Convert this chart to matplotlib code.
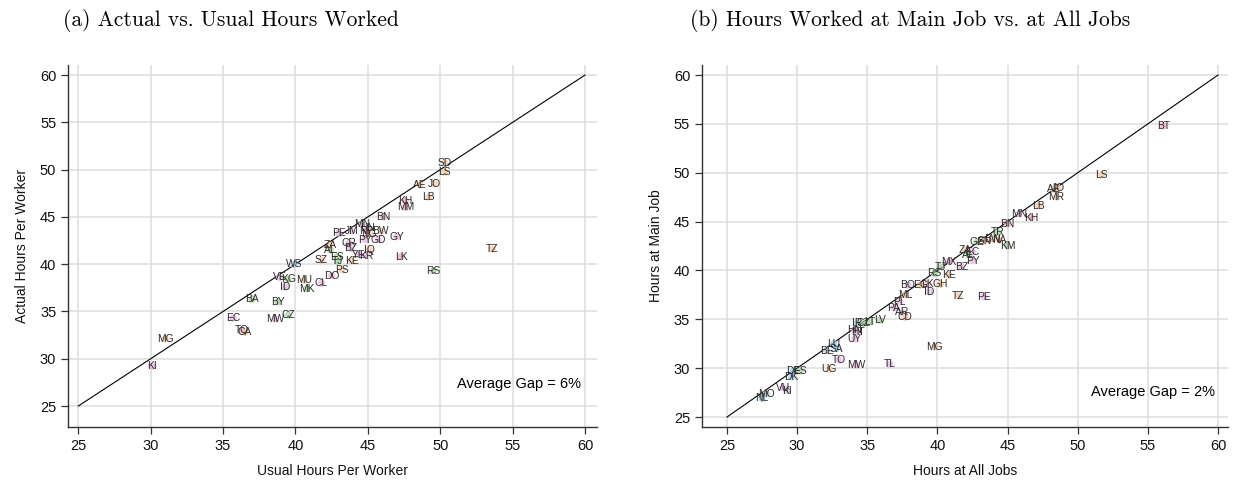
import matplotlib
matplotlib.use("Agg")
import matplotlib.pyplot as plt
import numpy as np

# ---------------- data ----------------
# Panel (a): usual vs actual hours per worker
a_codes = ["SD", "LS", "AE", "JO", "LB", "KH", "MM", "BN", "MN", "HN", "NP", "BW", "NG",
           "PE", "JM", "PY", "GD", "GY", "ZA", "CR", "AL", "BZ", "IQ", "YE", "KR", "LK",
           "SZ", "ES", "TJ", "KE", "WS", "DO", "PS", "RS", "TZ", "VE", "KG", "ID", "MU",
           "MK", "CL", "BA", "BY", "EC", "MW", "CZ", "TO", "CA", "MG", "KI"]
a_usual = [50.3, 50.3, 48.6, 49.6, 49.2, 47.6, 47.6, 46.1, 44.6, 45.0, 44.9, 45.9, 45.1,
           43.0, 43.9, 44.8, 45.7, 47.0, 42.4, 43.7, 42.4, 43.8, 45.1, 44.4, 44.9, 47.3,
           41.8, 42.9, 42.9, 43.9, 39.9, 42.5, 43.2, 49.5, 53.6, 38.9, 39.5, 39.3, 40.6,
           40.8, 41.8, 37.0, 38.8, 35.7, 38.6, 39.5, 36.3, 36.5, 31.0, 30.1]
a_actual = [50.7, 49.7, 48.4, 48.5, 47.1, 46.7, 46.0, 45.0, 44.2, 43.8, 43.5, 43.5, 43.2,
            43.3, 43.5, 42.6, 42.6, 42.9, 42.0, 42.2, 41.5, 41.7, 41.5, 41.0, 40.9, 40.8,
            40.4, 40.8, 40.3, 40.3, 40.0, 38.8, 39.4, 39.3, 41.6, 38.6, 38.4, 37.6, 38.3,
            37.4, 38.0, 36.3, 36.0, 34.3, 34.2, 34.6, 33.0, 32.8, 32.1, 29.2]

# Panel (b): hours at all jobs vs hours at main job
b_codes = ["BT", "LS", "AE", "JO", "MR", "LB", "MN", "KH", "BN", "TR", "BW", "SN", "NA",
           "GE", "KM", "ZA", "EC", "AL", "PY", "MX", "BZ", "TJ", "KE", "RS", "GH", "BO",
           "EG", "LK", "ID", "TZ", "ML", "PE", "PL", "PA", "AR", "CD", "LV", "LT", "IR",
           "CZ", "HN", "HT", "UY", "LU", "BE", "SA", "TO", "UG", "MW", "TL", "MG", "DE",
           "ES", "DK", "VU", "KI", "MO", "NL"]
b_all = [56.1, 51.7, 48.3, 48.6, 48.5, 47.2, 45.8, 46.7, 45.0, 44.3, 43.9, 43.4, 44.4,
         42.8, 45.0, 42.0, 42.5, 42.2, 42.5, 40.8, 41.7, 40.2, 40.8, 39.8, 40.2, 37.9,
         38.8, 39.3, 39.4, 41.5, 37.7, 43.3, 37.3, 36.9, 37.5, 37.7, 35.9, 35.2, 34.3,
         34.7, 34.1, 34.3, 34.1, 32.6, 32.1, 32.8, 33.0, 32.3, 34.2, 36.6, 39.8, 29.7,
         30.2, 29.6, 29.0, 29.3, 27.8, 27.5]
b_main = [54.8, 49.8, 48.3, 48.4, 47.5, 46.6, 45.8, 45.4, 44.8, 43.9, 43.2, 43.0, 43.1,
          42.9, 42.5, 42.1, 41.9, 41.6, 41.0, 40.9, 40.4, 40.4, 39.5, 39.7, 38.6, 38.5,
          38.5, 38.6, 37.8, 37.4, 37.5, 37.3, 36.8, 36.2, 35.7, 35.2, 34.9, 34.7, 34.6,
          34.6, 33.9, 33.7, 33.0, 32.5, 31.8, 32.0, 30.8, 29.9, 30.3, 30.4, 32.2, 29.7,
          29.7, 29.1, 28.0, 27.7, 27.4, 26.9]

ticks = [25, 30, 35, 40, 45, 50, 55, 60]
gap_a = "Average Gap = 6%"
gap_b = "Average Gap = 2%"

# region colour groups (style)
region_groups = {
    "#e6b8e0": ["MN", "PE", "JM", "PY", "KR", "YE", "VE", "CL", "EC", "MW", "TO", "BZ",
                "CR", "HN", "GD", "GY", "DO", "ID", "PA", "PL", "TL", "KI", "VU", "MX",
                "AR", "UY", "BO", "HT"],
    "#a9d4a0": ["KG", "BY", "CZ", "ES", "TJ", "AL", "MK", "RS", "BA", "LT", "GE", "TR",
                "KM", "LV"],
    "#f6c9a2": ["SD", "LS", "AE", "JO", "LB", "IQ", "PS", "TZ", "KE", "ZA", "SZ", "BW",
                "NG", "MU", "MG", "CA", "UG", "CD", "GH", "EG", "ML", "SN", "NA", "MR"],
    "#a4d4ea": ["LU", "BE", "NL", "MO", "DK", "DE", "SA", "IR", "WS"],
    "#f0a8bc": ["KH", "MM", "BN", "NP", "LK", "BT", "IN"],
}
code_color = {c: col for col, cs in region_groups.items() for c in cs}

plt.rcParams["font.family"] = ["Liberation Sans", "DejaVu Sans"]

fig = plt.figure(figsize=(12.37, 4.82), dpi=100)
ax_a = fig.add_axes([0.055, 0.1141, 0.4276, 0.7509])
ax_b = fig.add_axes([0.5675, 0.1141, 0.4252, 0.7509])


def style(ax, xlim, ylim, xlabel, ylabel):
    ax.set_xlim(*xlim)
    ax.set_ylim(*ylim)
    ax.set_xticks(ticks)
    ax.set_yticks(ticks)
    ax.grid(True, color="#dcdcdc", linewidth=1.1)
    ax.set_axisbelow(True)
    for s in ["top", "right"]:
        ax.spines[s].set_visible(False)
    for s in ["left", "bottom"]:
        ax.spines[s].set_color("#333333")
        ax.spines[s].set_linewidth(1.0)
    ax.tick_params(direction="out", length=5, width=0.9, colors="#333333",
                   labelsize=10.5, labelcolor="#111111")
    ax.set_xlabel(xlabel, fontsize=10, labelpad=8, color="#111111")
    ax.set_ylabel(ylabel, fontsize=10, labelpad=8, color="#111111")
    ax.plot([25, 60], [25, 60], color="black", linewidth=0.8, zorder=2)


def draw(ax, codes, xs, ys):
    cols = [code_color.get(c, "#d8c8e8") for c in codes]
    ax.scatter(xs, ys, s=28, c=cols, alpha=0.75, edgecolors="none", zorder=3)
    for c, x, y in zip(codes, xs, ys):
        ax.text(x, y, c, fontsize=7.4, ha="center", va="center", color="#2a2a2a",
                zorder=4)


style(ax_a, (24.29, 60.83), (22.78, 61.06), "Usual Hours Per Worker", "Actual Hours Per Worker")
draw(ax_a, a_codes, a_usual, a_actual)
ax_a.text(0.97, 0.12, gap_a, transform=ax_a.transAxes, ha="right", va="center", fontsize=10.5)

style(ax_b, (23.22, 60.71), (23.98, 61.02), "Hours at All Jobs", "Hours at Main Job")
draw(ax_b, b_codes, b_all, b_main)
ax_b.text(0.975, 0.097, gap_b, transform=ax_b.transAxes, ha="right", va="center", fontsize=10.5)

fig.text(63 / 1237, 1 - 20 / 482, "(a) Actual vs. Usual Hours Worked", family="cmr10",
         fontsize=15.5, ha="left", va="center")
fig.text(690 / 1237, 1 - 20 / 482, "(b) Hours Worked at Main Job vs. at All Jobs",
         family="cmr10", fontsize=15.5, ha="left", va="center")

fig.savefig("out.png", dpi=100)
